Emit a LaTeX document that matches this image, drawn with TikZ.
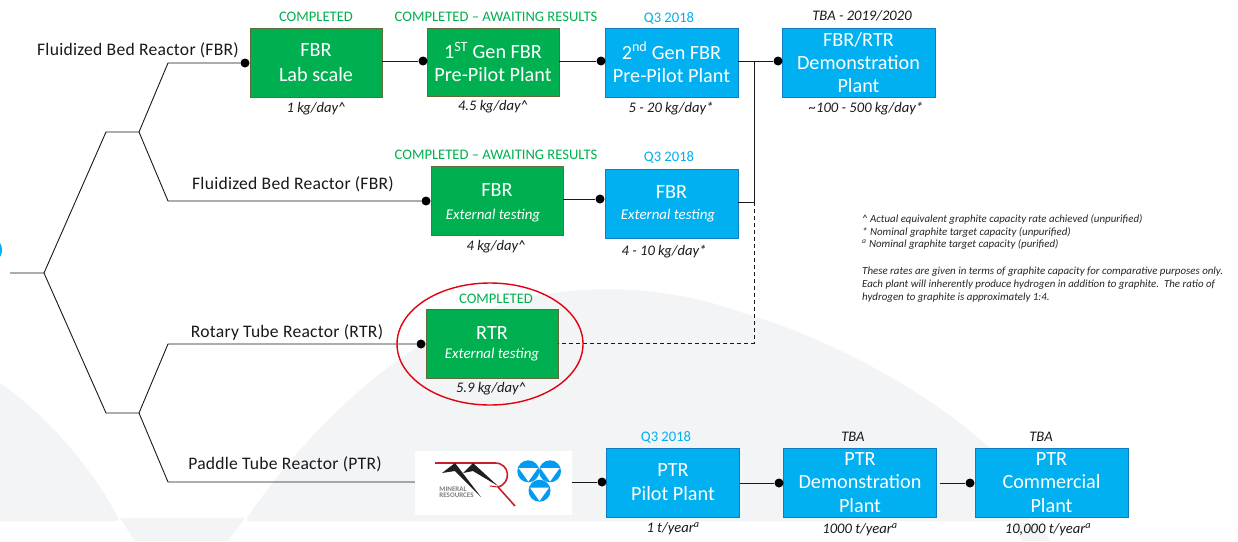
\documentclass[tikz,border=0pt]{standalone}
\usepackage{fontspec}
\setmainfont{Carlito}
\usetikzlibrary{calc,shapes.geometric}
\definecolor{gfill}{HTML}{00B050}
\definecolor{gedge}{HTML}{5E6B3A}
\definecolor{bfill}{HTML}{00B0F0}
\definecolor{bedge}{HTML}{0F7DC2}
\definecolor{backg}{HTML}{F3F4F6}
\definecolor{redc}{HTML}{E3000F}
\definecolor{logored}{HTML}{C8202A}
\newcommand{\bx}{\fontsize{20.2}{23.4}\selectfont}
\newcommand{\ext}{\fontsize{14.9}{17}\selectfont\itshape}
\newcommand{\ssa}{\textsuperscript{\itshape a}}
\tikzset{
 box/.style={rectangle,draw,line width=0.9pt,text=white,align=center,inner sep=0pt,outer sep=0pt,minimum height=69pt,font=\bx},
 gbox/.style={box,fill=gfill,draw=gedge,minimum width=132pt},
 bbox/.style={box,fill=bfill,draw=bedge,minimum width=133pt},
 wbox/.style={box,fill=bfill,draw=bedge,minimum width=153pt},
 jdot/.style={circle,fill=black,inner sep=0pt,minimum size=9pt},
 wire/.style={line width=0.9pt,black!90},
 dwire/.style={line width=0.8pt,black!90,dash pattern=on 4pt off 3pt},
 branch/.style={font=\fontsize{17.6}{20}\selectfont\addfontfeature{LetterSpace=1.5},text=black!90,inner sep=0pt},
 gtag/.style={font=\fontsize{14.6}{16}\selectfont,text=gfill,inner sep=0pt},
 btag/.style={font=\fontsize{14.6}{16}\selectfont,text=bfill,inner sep=0pt},
 ktag/.style={font=\fontsize{14.6}{16}\selectfont\itshape,text=black!90,inner sep=0pt},
 note/.style={font=\fontsize{10.9}{12.9}\selectfont\itshape,text=black!85,inner sep=0pt,align=left,anchor=north west},
}
\newcommand{\tricirc}[2]{\fill[bfill!88!blue] (#1,#2) circle (11);}
\newcommand{\tricut}[2]{\fill[white] (#1-9.6,#2-3.2) -- (#1+9.6,#2-3.2) -- (#1,#2+10.2) -- cycle;}
\begin{document}
\begin{tikzpicture}[x=1pt,y=-1pt]
\useasboundingbox (0,0) rectangle (1238,541);
\clip (0,0) rectangle (1238,541);
% background
\fill[white] (0,0) rectangle (1238,541);
\fill[backg] (0,383) .. controls (50,418) and (95,472) .. (118,518) -- (118,521) -- (0,521) -- cycle;
\fill[backg] (120,518) -- (245,518) -- (228,541) -- (135,541) -- cycle;
\fill[backg] (247,521) -- (247,518) .. controls (300,440) and (390,345) .. (500,305) .. controls (570,283) and (660,283) .. (740,312) .. controls (820,335) and (920,385) .. (990,448) -- (1030,521) -- cycle;
\fill[backg] (1012,523) -- (1038,523) -- (1050,541) -- (1022,541) -- cycle;
\fill[bfill] (-12,250) circle (14);
% tree
\coordinate (root) at (10,273);
\coordinate (fork) at (44,273);
\coordinate (ua) at (106,132);
\coordinate (ub) at (139,132);
\coordinate (la) at (106,413);
\coordinate (lb) at (139,413);
\coordinate (t1) at (168,63);
\coordinate (t2) at (168,201);
\coordinate (t3) at (168,344);
\coordinate (t4) at (168,482);
% boxes
\node[gbox] (fbrlab) at (316,62.5) {FBR\\[1pt]Lab scale};
\node[gbox,minimum height=68pt] (gen1) at (493,62) {1\textsuperscript{ST} Gen FBR\\Pre-Pilot Plant};
\node[bbox] (gen2) at (671.5,62.5) {2\textsuperscript{nd} Gen FBR\\Pre-Pilot Plant};
\node[wbox] (demo) at (858.5,62.5) {FBR/RTR\\Demonstration\\Plant};
\node[gbox] (fbrg) at (497,200.5) {\rule{0pt}{18pt}FBR\\[0pt]{\ext\hspace*{-8pt}External testing}};
\node[bbox] (fbrb) at (671.5,203.5) {FBR\\[-2pt]{\ext\hspace*{-7pt}External testing}};
\node[gbox] (rtr) at (492,343.5) {RTR\\[-4pt]{\ext External testing}};
\node[bbox] (ptrp) at (673,482.5) {PTR\\[0.5pt]Pilot Plant};
\node[wbox] (ptrd) at (860,482.5) {PTR\\Demonstration\\Plant};
\node[wbox] (ptrc) at (1051.5,482.5) {PTR\\Commercial\\Plant};
% logos
\node[rectangle,fill=white,minimum width=157pt,minimum height=64pt,inner sep=0pt] (logos) at (493.5,483) {};
\draw[line width=1.6pt,logored,line join=round] (435,463) -- (495,463) .. controls (510,463) and (512,483) .. (498,487) -- (515,506);
\draw[line width=1pt,logored] (498,487) -- (490,486);
\fill[black!88] (442,473) -- (455,463) -- (481,497) -- (455,471) -- cycle;
\fill[black!88] (463,473) -- (473,463) -- (498,486) -- (473,471) -- cycle;
\tricirc{528.3}{471.3}
\tricirc{550}{471.3}
\tricirc{539.5}{490.7}
\tricut{528.3}{471.3}
\tricut{550}{471.3}
\tricut{539.5}{490.7}
\node[font=\fontsize{7}{6}\selectfont\bfseries,text=black!50,align=left,inner sep=0pt] (mrtxt) at (456.5,492) {MINERAL\\RESOURCES};
% dots
\node[jdot] (d1) at (245,63) {};
\node[jdot] (d2) at (423,61) {};
\node[jdot] (d3) at (601,61) {};
\node[jdot] (d4) at (778,61) {};
\node[jdot] (d5) at (426,201) {};
\node[jdot] (d6) at (600,199) {};
\node[jdot] (d7) at (421,344) {};
\node[jdot] (d8) at (602,482) {};
\node[jdot] (d9) at (779,483) {};
\node[jdot] (d10) at (970,483) {};
\coordinate (v1) at (754,61);
\coordinate (v2) at (754,202);
\coordinate (v3) at (754,343);
% tree lines
\draw[wire,line join=round] (root) -- (fork) -- (ua) -- (ub) -- (t1) -- (d1);
\draw[wire,line join=round] (ub) -- (t2) -- (d5);
\draw[wire,line join=round] (fork) -- (la) -- (lb) -- (t3) -- (d7);
\draw[wire,line join=round] (lb) -- (t4) -- (logos.west |- t4);
% connectors
\draw[wire] (fbrlab.east |- d2) -- (d2);
\draw[wire] (gen1.east |- d3) -- (d3);
\draw[wire] (gen2.east |- d4) -- (d4);
\draw[wire] (v1) -- (v2);
\draw[wire] (fbrb.east |- v2) -- (v2);
\draw[dwire] (v2) -- (v3) -- (rtr.east |- v3);
\draw[wire] (fbrg.east |- d6) -- (d6);
\draw[wire] (logos.east |- d8) -- (d8);
\draw[wire] (ptrp.east |- d9) -- (d9);
\draw[wire] ([xshift=3pt]ptrd.east |- d10) -- (d10);
% ellipse
\node[ellipse,draw=redc,line width=1.4pt,minimum width=186pt,minimum height=122pt,inner sep=0pt] (ring) at (490,344) {};
% branch labels
\node[branch] (l1) at (138,50) {Fluidized Bed Reactor (FBR)};
\node[branch] (l2) at (293,184) {Fluidized Bed Reactor (FBR)};
\node[branch] (l3) at (287,332) {Rotary Tube Reactor (RTR)};
\node[branch] (l4) at (285,464) {Paddle Tube Reactor (PTR)};
% status labels
\node[gtag] (s1) at (316,17) {COMPLETED};
\node[gtag] (s2) at (496,17) {COMPLETED – AWAITING RESULTS};
\node[btag] (s3) at (669,18) {Q3 2018};
\node[ktag] (s4) at (862,16) {TBA - 2019/2020};
\node[gtag] (s5) at (496,155) {COMPLETED – AWAITING RESULTS};
\node[btag] (s6) at (669,157) {Q3 2018};
\node[gtag] (s7) at (496,299) {COMPLETED};
\node[btag] (s8) at (666,437) {Q3 2018};
\node[ktag] (s9) at (853,437) {TBA};
\node[ktag] (s10) at (1041,437) {TBA};
% rates
\node[ktag] (r1) at (316,109) {1 kg/day\^{}};
\node[ktag] (r2) at (493,107) {4.5 kg/day\^{}};
\node[ktag] (r3) at (671,109) {5 - 20 kg/day*};
\node[ktag] (r4) at (866,109) {\textasciitilde100 - 500 kg/day*};
\node[ktag] (r5) at (496,247) {4 kg/day\^{}};
\node[ktag] (r6) at (664,252) {4 - 10 kg/day*};
\node[ktag] (r7) at (491,389) {5.9 kg/day\^{}};
\node[ktag] (r8) at (673,529) {1 t/year\ssa};
\node[ktag] (r9) at (860,530) {1000 t/year\ssa};
\node[ktag] (r10) at (1048,530) {10,000 t/year\ssa};
% notes
\node[note] (n1) at (862,214) {\^{} Actual equivalent graphite capacity rate achieved (unpurified)\\* Nominal graphite target capacity (unpurified)\\\textsuperscript{a} Nominal graphite target capacity (purified)};
\node[note] (n2) at (862,267) {These rates are given in terms of graphite capacity for comparative purposes only.\\Each plant will inherently produce hydrogen in addition to graphite.\ \ The ratio of\\hydrogen to graphite is approximately 1:4.};
\end{tikzpicture}
\end{document}
